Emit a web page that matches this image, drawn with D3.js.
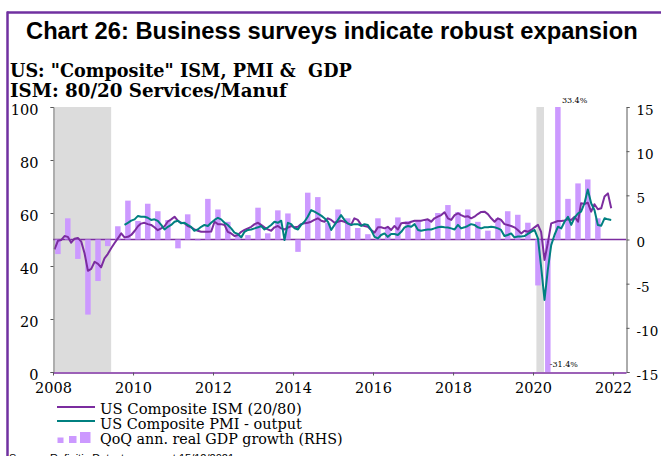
<!DOCTYPE html>
<meta charset="utf-8">
<style>
    body { margin: 0; background: #fff; }
    svg { display: block; }
    .serif { font-family: "DejaVu Serif", serif; }
</style>
<body>
<script src="https://d3js.org/d3.v7.min.js"></script>
<script>

// ---- data ----
// US composite ISM (80/20 services/manuf), monthly from Jan 2008
var ismValues = [
    46.3, 49.5, 49.8, 51.3, 51.0, 48.8, 50.3, 50.6, 49.2, 44.8, 38.2, 38.9,
    41.6, 40.8, 39.5, 42.9, 44.5, 46.7, 48.6, 50.4, 52.3, 50.8, 51.0, 51.7,
    53.2, 55.0, 56.0, 56.3, 55.8, 55.5, 54.6, 53.5, 54.2, 55.0, 56.8, 57.6,
    58.6, 57.0, 56.3, 56.1, 55.1, 54.6, 53.8, 53.3, 52.9, 52.9, 52.9, 53.0,
    56.7, 55.8, 55.8, 55.5, 52.9, 52.3, 51.3, 51.7, 52.9, 53.6, 54.2, 54.8,
    55.8, 56.3, 55.5, 54.6, 53.8, 53.3, 54.6, 55.1, 54.2, 53.8, 54.5, 55.1,
    54.6, 54.8, 55.8, 56.1, 56.3, 56.7, 57.4, 58.0, 57.1, 56.7, 58.0, 57.4,
    56.3, 56.7, 57.1, 56.7, 56.1, 55.5, 58.0, 57.4, 55.5, 55.1, 54.8, 53.6,
    52.6, 54.6, 54.6, 54.2, 54.8, 53.6, 55.1, 53.8, 56.1, 56.3, 56.1, 56.7,
    57.1, 57.1, 57.1, 57.4, 57.6, 56.7, 58.0, 58.6, 59.2, 60.3, 58.0, 57.4,
    59.2, 59.9, 59.2, 58.6, 58.8, 58.0, 58.6, 59.6, 60.4, 60.5, 59.6, 58.0,
    56.7, 58.0, 57.4, 55.8, 55.5, 55.1, 54.6, 53.6, 52.3, 53.3, 52.9, 53.6,
    54.6, 55.5, 52.9, 42.3, 48.6, 56.1, 56.5, 57.0, 57.0, 57.2, 57.6, 57.4,
    58.6, 56.7, 63.7, 63.4, 63.9, 60.5, 63.3, 61.4, 61.8, 66.2, 67.4, 61.8
];

// US composite PMI output, monthly from Oct 2009
var pmiValues = [
    55.5, 56.3, 57.1,
    57.6, 58.9, 58.6, 58.6, 58.2, 57.4, 57.6, 57.0, 55.5, 53.8, 54.8, 55.5,
    56.7, 57.1, 56.1, 56.3, 55.5, 54.8, 53.3, 53.8, 54.8, 55.5, 55.1, 56.3,
    57.4, 58.2, 57.6, 56.3, 55.5, 54.2, 52.6, 52.1, 50.8, 52.9, 53.6, 53.8,
    54.2, 54.6, 55.1, 53.8, 54.5, 55.5, 56.7, 56.3, 57.1, 49.8, 56.3, 55.8,
    54.2, 53.8, 55.5, 56.7, 58.6, 61.1, 60.5, 59.8, 59.0, 58.0, 56.7, 53.6,
    55.5, 57.4, 59.2, 57.4, 56.1, 55.5, 55.8, 55.8, 55.1, 55.8, 55.5, 53.6,
    51.0, 50.4, 51.7, 52.3, 51.0, 52.1, 52.1, 51.7, 52.9, 54.6, 55.1, 54.8,
    55.8, 53.6, 53.3, 53.6, 53.8, 53.8, 54.2, 54.6, 54.8, 54.6, 54.5, 54.2,
    53.8, 55.5, 54.2, 54.6, 55.1, 55.8, 55.5, 54.6, 54.2, 54.6, 54.6, 54.8,
    54.6, 54.2, 53.6, 51.3, 51.7, 52.3, 50.8, 51.1, 51.1, 51.3, 52.1, 52.9,
    53.6, 50.4, 39.7, 27.2, 38.5, 47.9, 51.7, 54.8, 54.2, 56.7, 58.6, 55.5,
    58.3, 59.9, 60.5, 63.7, 68.9, 63.7, 61.1, 55.5, 55.2, 58.0, 57.6, 57.4
];

// QoQ annualised real GDP growth, quarterly from 2008 Q1
var gdpValues = [
    -1.65, 2.4, -2.2, -8.5,
    -4.7, -0.75, 1.5, 4.4,
    2.1, 4.05, 3.2, 2.2,
    -1.0, 2.85, -0.1, 4.6,
    3.4, 2.0, 0.4, 0.5,
    3.6, 0.7, 3.3, 2.95,
    -1.4, 5.3, 4.8, 1.9,
    3.4, 2.4, 1.3, 0.6,
    2.4, 1.3, 2.5, 2.1,
    2.2, 2.3, 3.0, 3.9,
    3.1, 3.4, 2.0, 1.0,
    2.4, 3.2, 2.8, 1.9,
    -5.2, -31.4, 33.4, 4.6,
    6.35, 6.8, 2.4
];

// recessions [start, end]
var recessions = [
    [new Date(2008, 0, 1), new Date(2009, 5, 15)],
    [new Date(2020, 1, 1), new Date(2020, 3, 10)]
];

var xTickYears = [2008, 2010, 2012, 2014, 2016, 2018, 2020, 2022];
var leftTicks = [0, 20, 40, 60, 80, 100];
var rightTicks = [-15, -10, -5, 0, 5, 10, 15];

var ismDates = ismValues.map(function (v, i) { return new Date(2008, i, 15); });
var pmiDates = pmiValues.map(function (v, i) { return new Date(2009, 9 + i, 15); });
var gdpDates = gdpValues.map(function (v, i) { return new Date(2008, 3 * i + 1, 15); });

var purple = "#7b2c9f", teal = "#008080", barCol = "#cc99ff", frame = "#7030a0";

var W = 661, H = 456;
var plotL = 53, plotR = 626, plotT = 107, plotB = 372;

var svg = d3.select("body").append("svg")
    .attr("width", W)
    .attr("height", H);

// frame lines
svg.append("line").attr("x1", 7).attr("x2", W).attr("y1", 12.5).attr("y2", 12.5)
    .attr("stroke", frame).attr("stroke-width", 2.5);
svg.append("line").attr("x1", 7.5).attr("x2", 7.5).attr("y1", 11.5).attr("y2", H)
    .attr("stroke", frame).attr("stroke-width", 2.5);

function fitWidth(sel, w) {
    var size = parseFloat(sel.style("font-size"));
    var len = sel.node().getComputedTextLength();
    sel.style("font-size", (size * w / len) + "px");
}

var title = svg.append("text")
    .attr("x", 26).attr("y", 39)
    .style("font-family", "'Liberation Sans', Arial, sans-serif")
    .style("font-weight", "bold")
    .style("font-size", "21px")
    .text("Chart 26: Business surveys indicate robust expansion");
fitWidth(title, 612);

var sub1 = svg.append("text").attr("class", "serif")
    .attr("x", 10).attr("y", 77)
    .style("font-weight", "bold").style("font-size", "15px")
    .style("white-space", "pre")
    .text('US: "Composite" ISM, PMI &  GDP');
fitWidth(sub1, 342);

var sub2 = svg.append("text").attr("class", "serif")
    .attr("x", 10).attr("y", 97)
    .style("font-weight", "bold").style("font-size", "15px")
    .text("ISM: 80/20 Services/Manuf");
fitWidth(sub2, 277);

// scales
var x = d3.scaleTime()
    .domain([new Date(2008, 0, 1), new Date(2022, 3, 29)])
    .range([plotL, plotR]);
var yL = d3.scaleLinear().domain([0, 100]).range([plotB, plotT]);
var yR = d3.scaleLinear().domain([-15, 15]).range([plotB, plotT]).clamp(true);

// recession shading
svg.selectAll(".rec")
    .data(recessions)
    .enter().append("rect")
    .attr("x", function (d) { return x(d[0]); })
    .attr("width", function (d) { return x(d[1]) - x(d[0]); })
    .attr("y", plotT)
    .attr("height", plotB - plotT)
    .attr("fill", "#dcdcdc");

// zero / 50 line
svg.append("line")
    .attr("x1", plotL).attr("x2", plotR)
    .attr("y1", yR(0)).attr("y2", yR(0))
    .attr("stroke", purple).attr("stroke-width", 1.5);

// gdp bars
var bw = 5.5;
svg.selectAll(".bar")
    .data(gdpValues)
    .enter().append("rect")
    .attr("x", function (d, i) { return x(gdpDates[i]) - bw / 2; })
    .attr("width", bw)
    .attr("y", function (d) { return d >= 0 ? yR(d) : yR(0); })
    .attr("height", function (d) { return Math.abs(yR(d) - yR(0)); })
    .attr("fill", barCol);

// labels for the off-scale bars
svg.append("text").attr("class", "serif")
    .attr("x", x(gdpDates[50]) + 4).attr("y", 103)
    .style("font-size", "8px")
    .text(d3.format(".1f")(gdpValues[50]) + "%");
svg.append("text").attr("class", "serif")
    .attr("x", x(gdpDates[49]) + 2).attr("y", 367)
    .style("font-size", "8px")
    .text(String(gdpValues[49]) + "%");

// lines
var ismLine = d3.line()
    .x(function (d, i) { return x(ismDates[i]); })
    .y(function (d) { return yL(d); });
var pmiLine = d3.line()
    .x(function (d, i) { return x(pmiDates[i]); })
    .y(function (d) { return yL(d); });

svg.append("path").datum(ismValues)
    .attr("d", ismLine)
    .attr("fill", "none").attr("stroke", purple).attr("stroke-width", 2)
    .attr("stroke-linejoin", "round");
svg.append("path").datum(pmiValues)
    .attr("d", pmiLine)
    .attr("fill", "none").attr("stroke", teal).attr("stroke-width", 2)
    .attr("stroke-linejoin", "round");

// axes
var axL = svg.append("g")
    .attr("transform", "translate(" + (plotL + 0.5) + ",0)")
    .call(d3.axisLeft(yL).tickValues(leftTicks).tickSize(3).tickPadding(12));
var axR = svg.append("g")
    .attr("transform", "translate(" + (plotR + 0.5) + ",0)")
    .call(d3.axisRight(yR).tickValues(rightTicks)
        .tickFormat(function (d) { return String(d); })
        .tickSize(3).tickPadding(7));
var axB = svg.append("g")
    .attr("transform", "translate(0," + (plotB + 0.5) + ")")
    .call(d3.axisBottom(x)
        .tickValues(xTickYears.map(function (y) { return new Date(y, 0, 1); }))
        .tickFormat(d3.timeFormat("%Y"))
        .tickSizeInner(3).tickSizeOuter(0).tickPadding(7));

[axL, axR, axB].forEach(function (g) {
    g.selectAll("text")
        .attr("class", "serif")
        .style("font-size", "14.5px")
        .attr("fill", "#000");
    g.selectAll(".tick line").attr("stroke", "#595959");
});
axR.selectAll("text").style("font-size", "13.5px");
axL.select(".domain").attr("stroke", "#808080");
axR.select(".domain").attr("stroke", "#595959");
axB.select(".domain").attr("stroke", purple).attr("stroke-width", 1.5);
axL.selectAll("text").attr("dy", "0.5em");
axR.selectAll("text").attr("dy", "0.55em");

// legend
var lg = svg.append("g");
lg.append("line").attr("x1", 57).attr("x2", 95).attr("y1", 407).attr("y2", 407)
    .attr("stroke", purple).attr("stroke-width", 2);
lg.append("line").attr("x1", 57).attr("x2", 95).attr("y1", 421).attr("y2", 421)
    .attr("stroke", teal).attr("stroke-width", 2);
var iconBars = [[57.5, 6, 5.5], [69, 7.5, 7], [80, 10.5, 11]];
lg.selectAll(".ib").data(iconBars).enter().append("rect")
    .attr("x", function (d) { return d[0]; })
    .attr("width", function (d) { return d[1]; })
    .attr("y", function (d) { return 443 - d[2]; })
    .attr("height", function (d) { return d[2]; })
    .attr("fill", barCol);

var legendLabels = ["US Composite ISM (20/80)", "US Composite PMI - output", "QoQ ann. real GDP growth (RHS)"];
var legendY = [414, 429, 444];
var legendW = [202, 202, 243];
legendLabels.forEach(function (t, i) {
    var tx = lg.append("text").attr("class", "serif")
        .attr("x", 100).attr("y", legendY[i])
        .style("font-size", "14px")
        .text(t);
    fitWidth(tx, legendW[i]);
});

svg.append("text")
    .attr("x", 9).attr("y", 462)
    .style("font-family", "'Liberation Sans', Arial, sans-serif")
    .style("font-size", "11px")
    .text("Source: Refinitiv Datastream as at 15/12/2021;");

</script>
</body>
